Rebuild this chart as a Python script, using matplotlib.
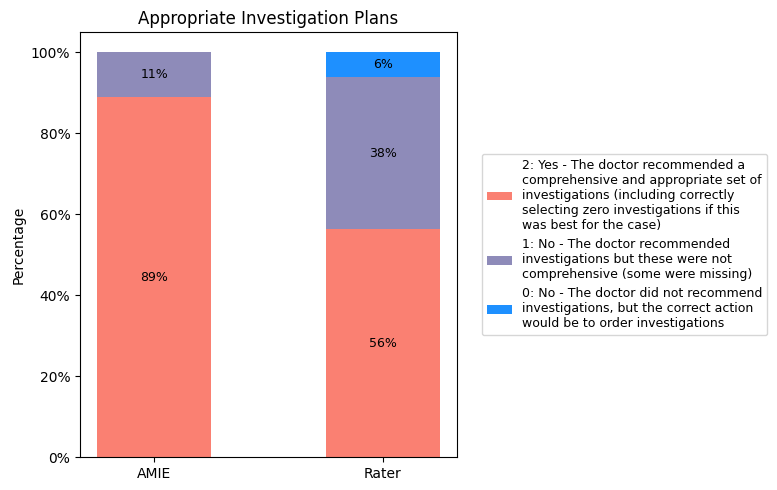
import matplotlib
matplotlib.use("Agg")
import matplotlib.pyplot as plt
from matplotlib.ticker import PercentFormatter

groups = ["AMIE", "Rater"]
yes_pct = [88.9, 56.25]
partial_pct = [11.1, 37.5]
none_pct = [0.0, 6.25]

labels = [
    "2: Yes - The doctor recommended a\ncomprehensive and appropriate set of\ninvestigations (including correctly\nselecting zero investigations if this\nwas best for the case)",
    "1: No - The doctor recommended\ninvestigations but these were not\ncomprehensive (some were missing)",
    "0: No - The doctor did not recommend\ninvestigations, but the correct action\nwould be to order investigations",
]
colors = ["salmon", "#8e8bb9", "dodgerblue"]

fig, ax = plt.subplots(figsize=(7.77, 4.9), dpi=100)

bottom = [0.0, 0.0]
for vals, lab, col in zip([yes_pct, partial_pct, none_pct], labels, colors):
    bars = ax.bar(groups, vals, width=0.5, bottom=bottom, color=col, label=lab)
    for b, v, btm in zip(bars, vals, bottom):
        if v > 0:
            ax.text(b.get_x() + b.get_width() / 2, btm + v / 2, f"{v:.0f}%",
                    ha="center", va="center", fontsize=9)
    bottom = [a + b for a, b in zip(bottom, vals)]

ax.set_ylim(0, 105)
ax.yaxis.set_major_formatter(PercentFormatter(decimals=0))
ax.set_ylabel("Percentage")
ax.set_title("Appropriate Investigation Plans")
ax.legend(loc="center left", bbox_to_anchor=(1.05, 0.5), fontsize=9)

fig.subplots_adjust(left=0.103, right=0.588, top=0.935, bottom=0.067)
plt.savefig("out.png")
